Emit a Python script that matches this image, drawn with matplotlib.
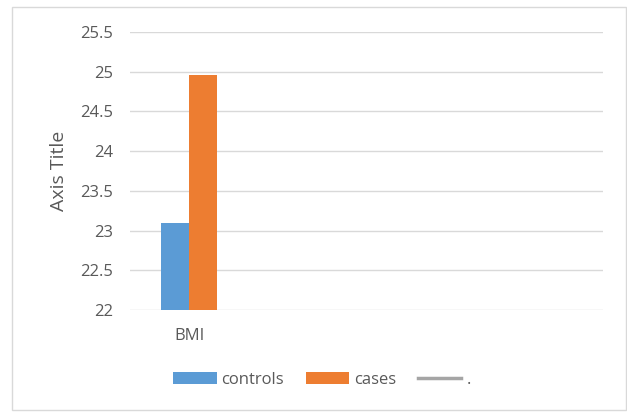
import matplotlib
matplotlib.use("Agg")
import matplotlib.pyplot as plt
from matplotlib.patches import Patch, Rectangle
from matplotlib.lines import Line2D
import numpy as np

categories = ["BMI", "", "", ""]
controls = [23.1, None, None, None]
cases = [24.96, None, None, None]
series_names = ["controls", "cases", "."]
y_ticks = [22, 22.5, 23, 23.5, 24, 24.5, 25, 25.5]

blue = "#5b9bd5"
orange = "#ed7d31"
gray = "#a5a5a5"
text_c = "#595959"

plt.rcParams["font.family"] = ["Open Sans", "DejaVu Sans"]

fig = plt.figure(figsize=(6.27, 4.12), dpi=100)
fig.patch.set_facecolor("white")
fig.add_artist(Rectangle((12 / 627, 2 / 412), 614 / 627, 403 / 412,
                         transform=fig.transFigure, fill=False,
                         edgecolor="#d9d9d9", linewidth=1.0))

ax = fig.add_axes([130 / 627, 1 - 310 / 412, 473 / 627, 278 / 412])
x = np.arange(len(categories))
w = 0.237
ctrl_vals = [v if v is not None else np.nan for v in controls]
case_vals = [v if v is not None else np.nan for v in cases]
base = y_ticks[0]
ax.bar(x - w / 2, np.array(ctrl_vals) - base, bottom=base, width=w, color=blue, zorder=3)
ax.bar(x + w / 2, np.array(case_vals) - base, bottom=base, width=w, color=orange, zorder=3)

ax.set_xlim(-0.5, len(categories) - 0.5)
ax.set_ylim(y_ticks[0], y_ticks[-1])
ax.set_yticks(y_ticks)
ax.set_yticklabels([f"{t:g}" for t in y_ticks], fontsize=12, color=text_c)
ax.set_xticks(x)
ax.set_xticklabels(categories, fontsize=12, color=text_c)
ax.tick_params(axis="both", length=0)
ax.tick_params(axis="y", pad=12)
ax.tick_params(axis="x", pad=13)
ax.grid(axis="y", color="#d9d9d9", linewidth=1.0, zorder=0)
for s in ax.spines.values():
    s.set_visible(False)
ax.set_ylabel("Axis Title", fontsize=14, color=text_c, labelpad=9)

handles = [Patch(facecolor=blue), Patch(facecolor=orange),
           Line2D([0], [0], color=gray, linewidth=2.5)]
fig.legend(handles, series_names, loc="center", ncol=3, frameon=False,
           bbox_to_anchor=(322 / 627, 1 - 380 / 412), fontsize=12,
           labelcolor=text_c, handlelength=2.6, handleheight=0.7,
           handletextpad=0.3, columnspacing=1.3)

fig.savefig("out.png", dpi=100, facecolor="white")
